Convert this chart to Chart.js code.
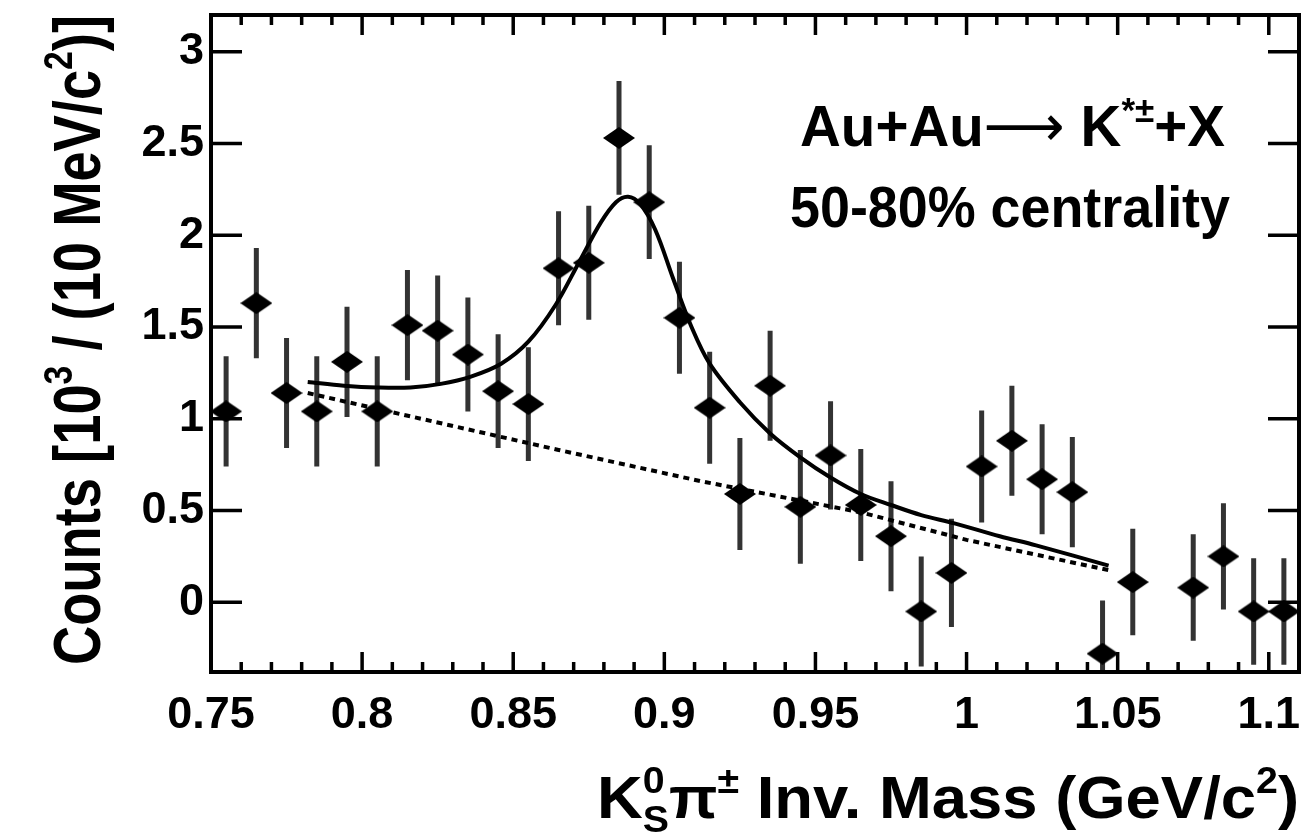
<!DOCTYPE html>
<html>
<head>
<meta charset="utf-8">
<script src="https://cdn.jsdelivr.net/npm/chart.js@4.4.0/dist/chart.umd.min.js"></script>
<style>
  body { margin: 0; background: #fff; }
  canvas { display: block; }
</style>
</head>
<body>
<canvas id="kstar" width="1306" height="834"></canvas>
<script>
// K*± invariant mass, Au+Au 50-80% (counts in units of 10^3 per 10 MeV/c^2)
const massBins = [0.755, 0.765, 0.775, 0.785, 0.795, 0.805, 0.815, 0.825, 0.835, 0.845,
  0.855, 0.865, 0.875, 0.885, 0.895, 0.905, 0.915, 0.925, 0.935, 0.945,
  0.955, 0.965, 0.975, 0.985, 0.995, 1.005, 1.015, 1.025, 1.035, 1.045,
  1.055, 1.075, 1.085, 1.095, 1.105];
const counts = [1.04, 1.63, 1.14, 1.04, 1.31, 1.04, 1.51, 1.48, 1.35, 1.15,
  1.08, 1.82, 1.85, 2.53, 2.18, 1.55, 1.06, 0.59, 1.18, 0.52,
  0.80, 0.53, 0.36, -0.05, 0.16, 0.74, 0.88, 0.67, 0.60, -0.28,
  0.11, 0.08, 0.25, -0.05, -0.05];
const errors = [0.30, 0.30, 0.30, 0.30, 0.30, 0.30, 0.30, 0.30, 0.31, 0.31,
  0.31, 0.31, 0.31, 0.31, 0.31, 0.305, 0.305, 0.305, 0.30, 0.31,
  0.295, 0.305, 0.30, 0.30, 0.295, 0.305, 0.30, 0.30, 0.30, 0.29,
  0.29, 0.29, 0.29, 0.29, 0.29];

// fit curves: signal + background, and background only
const fitMass = [0.782, 0.794, 0.805, 0.816, 0.826, 0.836, 0.846, 0.855, 0.864, 0.872,
  0.879, 0.884, 0.888, 0.892, 0.897, 0.903, 0.909, 0.915, 0.925, 0.935,
  0.945, 0.955, 0.965, 0.975, 0.985, 0.996, 1.011, 1.023, 1.047];
const fitTotal = [1.20, 1.18, 1.17, 1.17, 1.19, 1.23, 1.30, 1.42, 1.62, 1.86,
  2.07, 2.18, 2.21, 2.17, 2.03, 1.76, 1.50, 1.30, 1.09, 0.92,
  0.79, 0.68, 0.59, 0.53, 0.475, 0.43, 0.36, 0.31, 0.20];
const bgMass = [0.782, 0.865, 0.912, 0.965, 1.000, 1.047];
const bgValues = [1.14, 0.83, 0.66, 0.49, 0.34, 0.175];

const xTicks = [0.75, 0.8, 0.85, 0.9, 0.95, 1, 1.05, 1.1];
const yTicks = [0, 0.5, 1, 1.5, 2, 2.5, 3];

const sans = '"Liberation Sans", Arial, sans-serif';
const yTitle = [{ t: 'Counts [10' }, { t: '3', sup: true }, { t: ' / (10 MeV/c' }, { t: '2', sup: true }, { t: ')]' }];
const xTitle = [{ t: 'K' }, { stack: ['0', 'S'] }, { t: 'π' }, { t: '±', sup: true }, { t: ' Inv. Mass (GeV/c' }, { t: '2', sup: true }, { t: ')' }];
const label1 = [{ t: 'Au+Au' }, { t: '⟶', weight: 'normal', family: '"DejaVu Sans", sans-serif' }, { t: ' K' }, { t: '*±', sup: true }, { t: '+X' }];
const label2 = [{ t: '50-80% centrality' }];

// diamond marker
const diamond = document.createElement('canvas');
diamond.width = 32; diamond.height = 22;
(function () {
  const c = diamond.getContext('2d');
  c.fillStyle = '#000';
  c.beginPath();
  c.moveTo(0, 11); c.lineTo(16, 0); c.lineTo(32, 11); c.lineTo(16, 22);
  c.closePath();
  c.fill();
})();

const errSegments = [];
massBins.forEach((m, i) => {
  errSegments.push({ x: m, y: counts[i] - errors[i] });
  errSegments.push({ x: m, y: counts[i] + errors[i] });
  errSegments.push({ x: m, y: null });
});

function fontFor(p, size) {
  const s = (p.sup || p.stack) ? size * 0.62 : size;
  return (p.weight || 'bold') + ' ' + s + 'px ' + (p.family || sans);
}
function measurePieces(ctx, pieces, size) {
  let w = 0;
  for (const p of pieces) {
    ctx.font = fontFor(p, size);
    p._w = p.stack ? Math.max(ctx.measureText(p.stack[0]).width, ctx.measureText(p.stack[1]).width)
      : ctx.measureText(p.t).width;
    w += p._w;
  }
  return w;
}
function drawText(ctx, pieces, size, x, y, length, angle) {
  const w = measurePieces(ctx, pieces, size);
  ctx.save();
  ctx.translate(x, y);
  ctx.rotate(angle);
  ctx.scale(length / w, 1);
  ctx.fillStyle = '#000';
  ctx.textBaseline = 'alphabetic';
  ctx.textAlign = 'left';
  let px = 0;
  for (const p of pieces) {
    ctx.font = fontFor(p, size);
    if (p.stack) {
      ctx.fillText(p.stack[0], px, -size * 0.42);
      ctx.fillText(p.stack[1], px, size * 0.24);
    } else {
      ctx.fillText(p.t, px, p.sup ? -size * 0.42 : 0);
    }
    px += p._w;
  }
  ctx.restore();
}

const frame = {
  id: 'frame',
  afterDatasetsDraw(chart) {
    const { ctx, chartArea: a, scales: { x, y } } = chart;
    ctx.save();
    ctx.strokeStyle = '#000';
    ctx.lineWidth = 4;
    ctx.strokeRect(a.left, a.top, a.right - a.left, a.bottom - a.top);
    ctx.lineWidth = 3.5;
    ctx.beginPath();
    yTicks.forEach(v => {
      const py = y.getPixelForValue(v);
      ctx.moveTo(a.left, py); ctx.lineTo(a.left + 31, py);
      ctx.moveTo(a.right, py); ctx.lineTo(a.right - 31, py);
    });
    for (let k = 1; k <= 36; k++) {
      const v = 0.75 + k * 0.01;
      const px = x.getPixelForValue(v);
      const len = (k % 5 === 0) ? 20 : 10;
      ctx.moveTo(px, a.bottom); ctx.lineTo(px, a.bottom - len);
      ctx.moveTo(px, a.top); ctx.lineTo(px, a.top + len);
    }
    ctx.stroke();
    ctx.restore();
  },
  afterDraw(chart) {
    const ctx = chart.ctx;
    drawText(ctx, yTitle, 66, 100, 665, 650, -Math.PI / 2);
    drawText(ctx, xTitle, 60, 597, 818, 702, 0);
    drawText(ctx, label1, 58, 800, 146, 425, 0);
    drawText(ctx, label2, 58, 790, 227, 440, 0);
  }
};

const tickFont = { family: sans, size: 45, weight: 'bold' };

new Chart(document.getElementById('kstar'), {
  type: 'scatter',
  data: {
    datasets: [
      {
        type: 'line',
        data: errSegments,
        borderColor: '#333',
        borderWidth: 5,
        pointRadius: 0,
        spanGaps: false,
        order: 3
      },
      {
        type: 'line',
        data: bgMass.map((m, i) => ({ x: m, y: bgValues[i] })),
        borderColor: '#000',
        borderWidth: 4,
        borderDash: [6, 5],
        pointRadius: 0,
        order: 2
      },
      {
        type: 'line',
        data: fitMass.map((m, i) => ({ x: m, y: fitTotal[i] })),
        borderColor: '#000',
        borderWidth: 4,
        tension: 0.35,
        pointRadius: 0,
        order: 1
      },
      {
        data: massBins.map((m, i) => ({ x: m, y: counts[i] })),
        pointStyle: diamond,
        order: 0
      }
    ]
  },
  options: {
    responsive: false,
    animation: false,
    events: [],
    layout: { padding: { top: 15, right: 7, left: 0, bottom: 0 } },
    plugins: { legend: { display: false }, tooltip: { enabled: false } },
    scales: {
      x: {
        type: 'linear',
        min: 0.75,
        max: 1.11,
        grid: { display: false, drawTicks: false },
        border: { display: false },
        afterBuildTicks: s => { s.ticks = xTicks.map(v => ({ value: v })); },
        afterFit: s => { s.height = 162; s.paddingLeft = 0; s.paddingRight = 0; },
        ticks: { font: tickFont, color: '#000', padding: 17, maxRotation: 0, autoSkip: false, callback: v => String(v) }
      },
      y: {
        min: -0.38,
        max: 3.2,
        grid: { display: false, drawTicks: false },
        border: { display: false },
        afterBuildTicks: s => { s.ticks = yTicks.map(v => ({ value: v })); },
        afterFit: s => { s.width = 211; s.paddingTop = 0; s.paddingBottom = 0; },
        ticks: { font: tickFont, color: '#000', padding: 7, autoSkip: false, callback: v => String(v) }
      }
    }
  },
  plugins: [frame]
});
</script>
</body>
</html>
